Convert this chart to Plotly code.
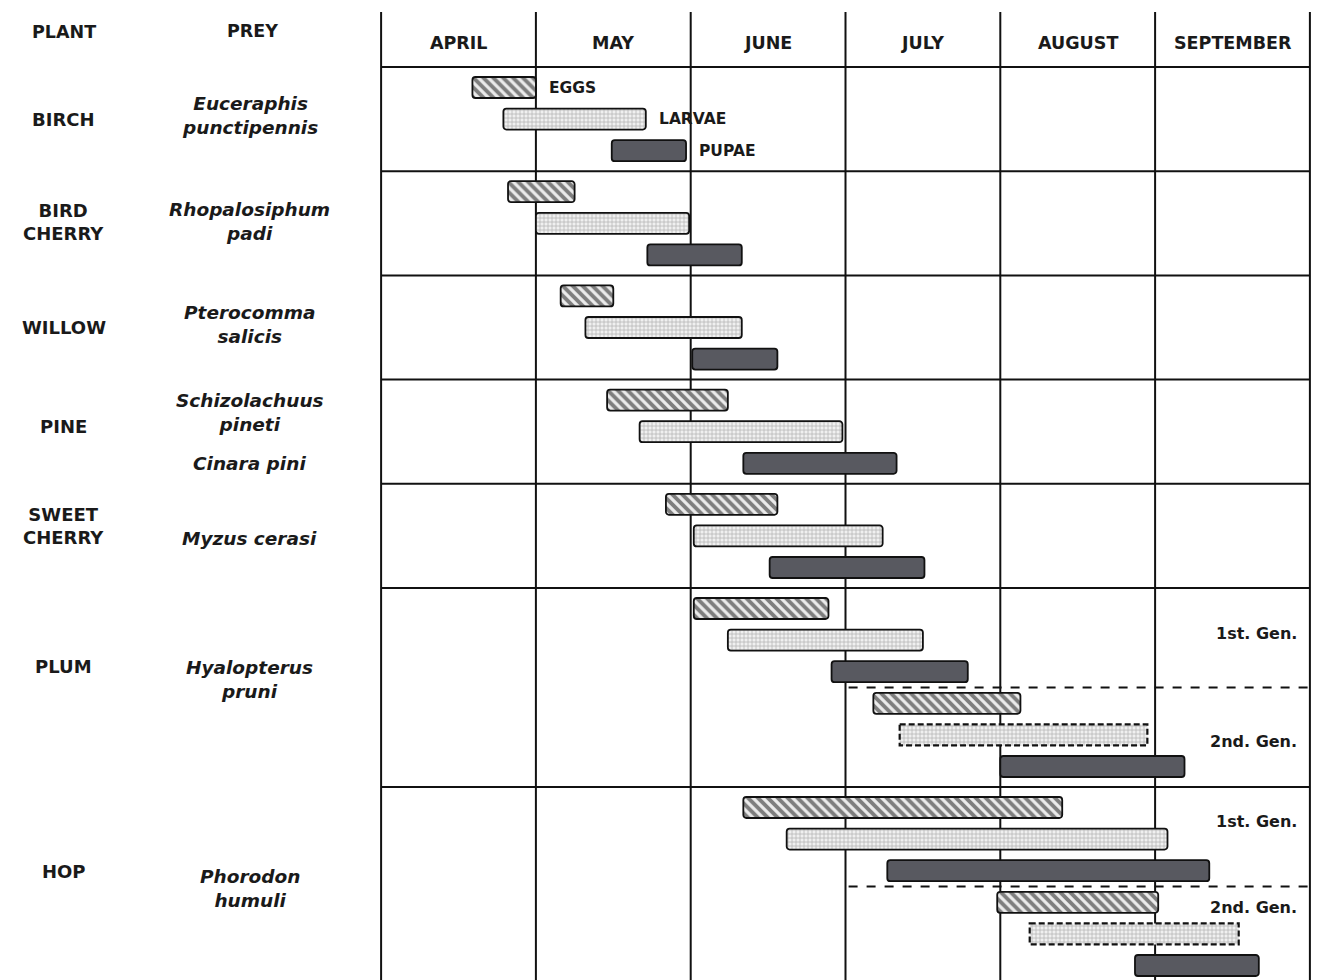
import plotly.graph_objects as go

months = ["APRIL", "MAY", "JUNE", "JULY", "AUGUST", "SEPTEMBER"]
plants = ["BIRCH", "BIRD<br>CHERRY", "WILLOW", "PINE", "SWEET<br>CHERRY", "PLUM", "HOP"]
prey = [["Euceraphis<br>punctipennis"], ["Rhopalosiphum<br>padi"], ["Pterocomma<br>salicis"],
        ["Schizolachuus<br>pineti", "Cinara pini"], ["Myzus cerasi"], ["Hyalopterus<br>pruni"],
        ["Phorodon<br>humuli"]]
stages = ["EGGS", "LARVAE", "PUPAE"]
gen_names = ["1st. Gen.", "2nd. Gen."]

# one entry per plant & generation; times in months after 1 April
bar_plant = [0, 1, 2, 3, 4, 5, 5, 6, 6]
bar_gen = [1, 1, 1, 1, 1, 1, 2, 1, 2]
eggs_start = [0.59, 0.82, 1.16, 1.46, 1.84, 2.02, 3.18, 2.34, 3.98]
eggs_end = [1.00, 1.25, 1.50, 2.24, 2.56, 2.89, 4.13, 4.40, 5.02]
larvae_start = [0.79, 1.00, 1.32, 1.67, 2.02, 2.24, 3.35, 2.62, 4.19]
larvae_end = [1.71, 1.99, 2.33, 2.98, 3.24, 3.50, 4.95, 5.08, 5.54]
pupae_start = [1.49, 1.72, 2.01, 2.34, 2.51, 2.91, 4.00, 3.27, 4.87]
pupae_end = [1.97, 2.33, 2.56, 3.33, 3.51, 3.79, 5.19, 5.35, 5.67]

# ---- layout geometry (y axis in pixels from plot top) ----
HEADER = 55
PAD = 20.5
LANE = 31.6
BAR_H = 21
XPAD = 0.02  # so the outer grid lines are not clipped in half
n_gen = [max(g for p, g in zip(bar_plant, bar_gen) if p == i) for i in range(len(plants))]
row_top = []
y = HEADER
for g in n_gen:
    row_top.append(y)
    y += 2 * PAD + (3 * g - 1) * LANE
row_top.append(y)

plant_lane = [1.0, 0.95, 1.0, 0.82, 0.7, 1.85, 2.04]
prey_lane = [[0.9], [0.95], [0.9], [0.38, 2.0], [1.07], [2.26], [2.55]]
gen_lane = {5: [0.8, 4.2], 6: [0.45, 3.15]}


def lane_y(plant, lane):
    return row_top[plant] + PAD + lane * LANE


def paper_x(month):
    return (month + XPAD) / (len(months) + 2 * XPAD)


starts = [eggs_start, larvae_start, pupae_start]
ends = [eggs_end, larvae_end, pupae_end]
styles = [
    dict(color="#ebebeb", pattern=dict(shape="\\", fgcolor="#111", size=7, solidity=0.55)),
    dict(color="#f0f0f0", pattern=dict(shape="+", fgcolor="#7a7a7a", size=4, solidity=0.35)),
    dict(color="#585960"),
]

fig = go.Figure()
shapes = []
for s, stage in enumerate(stages):
    ys = [lane_y(p, (g - 1) * 3 + s) for p, g in zip(bar_plant, bar_gen)]
    widths = [e - b for b, e in zip(starts[s], ends[s])]
    dashed = [s == 1 and g == 2 for g in bar_gen]
    fig.add_trace(go.Bar(
        orientation="h", y=ys, x=widths, base=starts[s], width=BAR_H, name=stage,
        marker=dict(**styles[s], line=dict(color="#111", width=[0 if d else 1.8 for d in dashed])),
        hoverinfo="skip",
    ))
    for b, e, yy, d in zip(starts[s], ends[s], ys, dashed):
        if d:
            shapes.append(dict(type="rect", xref="x", yref="y", x0=b, x1=e,
                               y0=yy - BAR_H / 2, y1=yy + BAR_H / 2,
                               line=dict(color="#111", width=2.2, dash="6px,3px"), layer="above"))

# grid
for m in range(len(months) + 1):
    shapes.append(dict(type="line", xref="x", yref="y", x0=m, x1=m, y0=0, y1=1000,
                       line=dict(color="#111", width=2), layer="below"))
for yy in [HEADER] + row_top[1:]:
    shapes.append(dict(type="line", xref="x", yref="y", x0=0, x1=len(months), y0=yy, y1=yy,
                       line=dict(color="#111", width=2), layer="below"))
for p, g in enumerate(n_gen):
    if g > 1:
        yy = lane_y(p, 2.5)
        shapes.append(dict(type="line", xref="x", yref="y", x0=3.02, x1=len(months), y0=yy, y1=yy,
                           line=dict(color="#111", width=2, dash="dash"), layer="below"))

FONT = "DejaVu Sans, Verdana, sans-serif"
ann = []
for i, m in enumerate(months):
    ann.append(dict(x=i + 0.5, y=31, text="<b>%s</b>" % m, font=dict(size=17.5)))
# left-hand columns live in the margin -> paper x
ann.append(dict(x=paper_x(-2.05), y=20, text="<b>PLANT</b>", font=dict(size=17.5), xref="paper"))
ann.append(dict(x=paper_x(-0.83), y=19, text="<b>PREY</b>", font=dict(size=17.5), xref="paper"))
for p, name in enumerate(plants):
    ann.append(dict(x=paper_x(-2.05), y=lane_y(p, plant_lane[p]), text="<b>%s</b>" % name,
                    font=dict(size=18), xref="paper"))
    for t, ln in zip(prey[p], prey_lane[p]):
        ann.append(dict(x=paper_x(-0.85), y=lane_y(p, ln), text="<b><i>%s</i></b>" % t,
                        font=dict(size=18.5), xref="paper"))
for p, lanes in gen_lane.items():
    for gname, ln in zip(gen_names, lanes):
        ann.append(dict(x=5.93, y=lane_y(p, ln), text="<b>%s</b>" % gname, xanchor="right",
                        font=dict(size=16)))
for s, stage in enumerate(stages):
    ann.append(dict(x=ends[s][0] + 0.07, y=lane_y(bar_plant[0], s), text="<b>%s</b>" % stage,
                    xanchor="left", font=dict(size=15.5)))
for a in ann:
    a.setdefault("xref", "x")
    a.update(yref="y", showarrow=False)
    a.setdefault("xanchor", "center")
    a["font"].update(family=FONT, color="#1a1a1a")

# page body adds an 8px offset, so trim the margins to keep the grid in place
fig.update_layout(
    width=1313, height=972,
    margin=dict(l=370, r=8, t=4, b=0, pad=0),
    plot_bgcolor="white", paper_bgcolor="white",
    barmode="overlay", barcornerradius=3, showlegend=False,
    shapes=shapes, annotations=ann,
    xaxis=dict(range=[-XPAD, len(months) + XPAD], showgrid=False, zeroline=False,
               showticklabels=False, ticks="", fixedrange=True),
    yaxis=dict(range=[968, 0], showgrid=False, zeroline=False, showticklabels=False,
               ticks="", fixedrange=True),
)

fig.write_html("out.html")
